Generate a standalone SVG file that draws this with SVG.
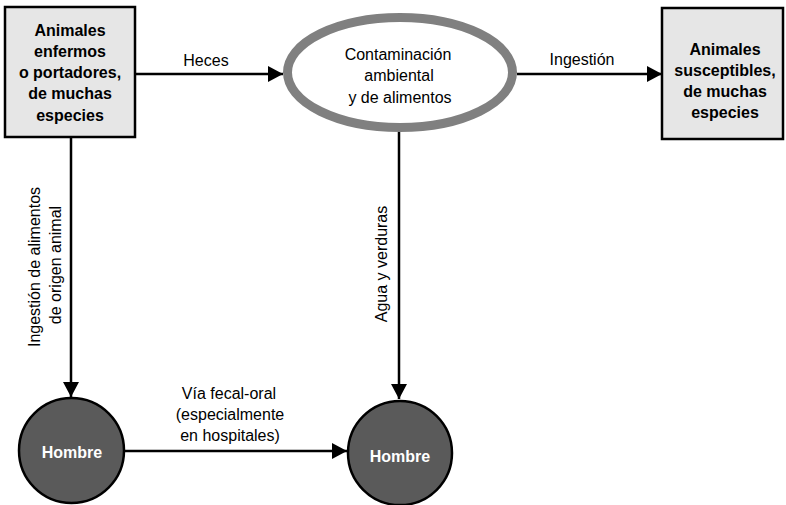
<svg xmlns="http://www.w3.org/2000/svg" width="786" height="505" viewBox="0 0 786 505">
<style>
.box{fill:#e6e6e6;stroke:#000;stroke-width:2.5}
.man{fill:#5a5a5a;stroke:#000;stroke-width:2.5}
.oval{fill:#fff;stroke:#808080;stroke-width:9}
.b{font-family:"Liberation Sans",Arial,sans-serif;font-weight:bold;font-size:16px;text-anchor:middle;fill:#000}
.w{font-family:"Liberation Sans",Arial,sans-serif;font-weight:bold;font-size:16px;text-anchor:middle;fill:#fff}
.t{font-family:"Liberation Sans",Arial,sans-serif;font-size:16px;text-anchor:middle;fill:#000}
.ln{stroke:#000;stroke-width:2.5;fill:none;marker-end:url(#ah)}
</style>
<defs>
<marker id="ah" markerUnits="userSpaceOnUse" markerWidth="16" markerHeight="18" refX="15" refY="8" orient="auto">
<polygon points="0,0 15,8 0,16" fill="#000"/>
</marker>
</defs>
<rect width="786" height="505" fill="#fff"/>
<g id="connectors">
<line class="ln" x1="135" y1="74" x2="283" y2="74"/>
<line class="ln" x1="517" y1="74" x2="662" y2="74"/>
<line class="ln" x1="71" y1="137" x2="71" y2="397"/>
<line class="ln" x1="399" y1="132" x2="399" y2="399"/>
<line class="ln" x1="125" y1="451" x2="347" y2="451"/>
<text class="t" x="206" y="66">Heces</text>
<text class="t" x="582" y="65">Ingestión</text>
<g transform="translate(40,267) rotate(-90)"><text class="t" x="0" y="0">Ingestión de alimentos</text></g>
<g transform="translate(61,265) rotate(-90)"><text class="t" x="0" y="0">de origen animal</text></g>
<g transform="translate(387,264) rotate(-90)"><text class="t" x="0" y="0">Agua y verduras</text></g>
<text class="t" x="229" y="399">Vía fecal-oral</text>
<text class="t" x="230" y="420">(especialmente</text>
<text class="t" x="230" y="441">en hospitales)</text>
</g>
<g id="animales-enfermos">
<rect class="box" x="5" y="7" width="130" height="130"/>
<text class="b" x="70" y="35.5">Animales</text>
<text class="b" x="70" y="56.8">enfermos</text>
<text class="b" x="70" y="78.1">o portadores,</text>
<text class="b" x="70" y="99.4">de muchas</text>
<text class="b" x="70" y="120.7">especies</text>
</g>
<g id="contaminacion">
<ellipse class="oval" cx="400" cy="72.5" rx="112.5" ry="55"/>
<text class="t" x="398" y="59.5">Contaminación</text>
<text class="t" x="399" y="81">ambiental</text>
<text class="t" x="400" y="102.5">y de alimentos</text>
</g>
<g id="animales-susceptibles">
<rect class="box" x="662" y="8" width="121" height="131"/>
<text class="b" x="725" y="54.5">Animales</text>
<text class="b" x="725" y="75.7">susceptibles,</text>
<text class="b" x="725" y="96.9">de muchas</text>
<text class="b" x="725" y="118.1">especies</text>
</g>
<g id="hombre-1">
<circle class="man" cx="71.5" cy="450.5" r="52.5"/>
<text class="w" x="72" y="457.5">Hombre</text>
</g>
<g id="hombre-2">
<circle class="man" cx="400" cy="453" r="52"/>
<text class="w" x="400" y="462">Hombre</text>
</g>
</svg>
